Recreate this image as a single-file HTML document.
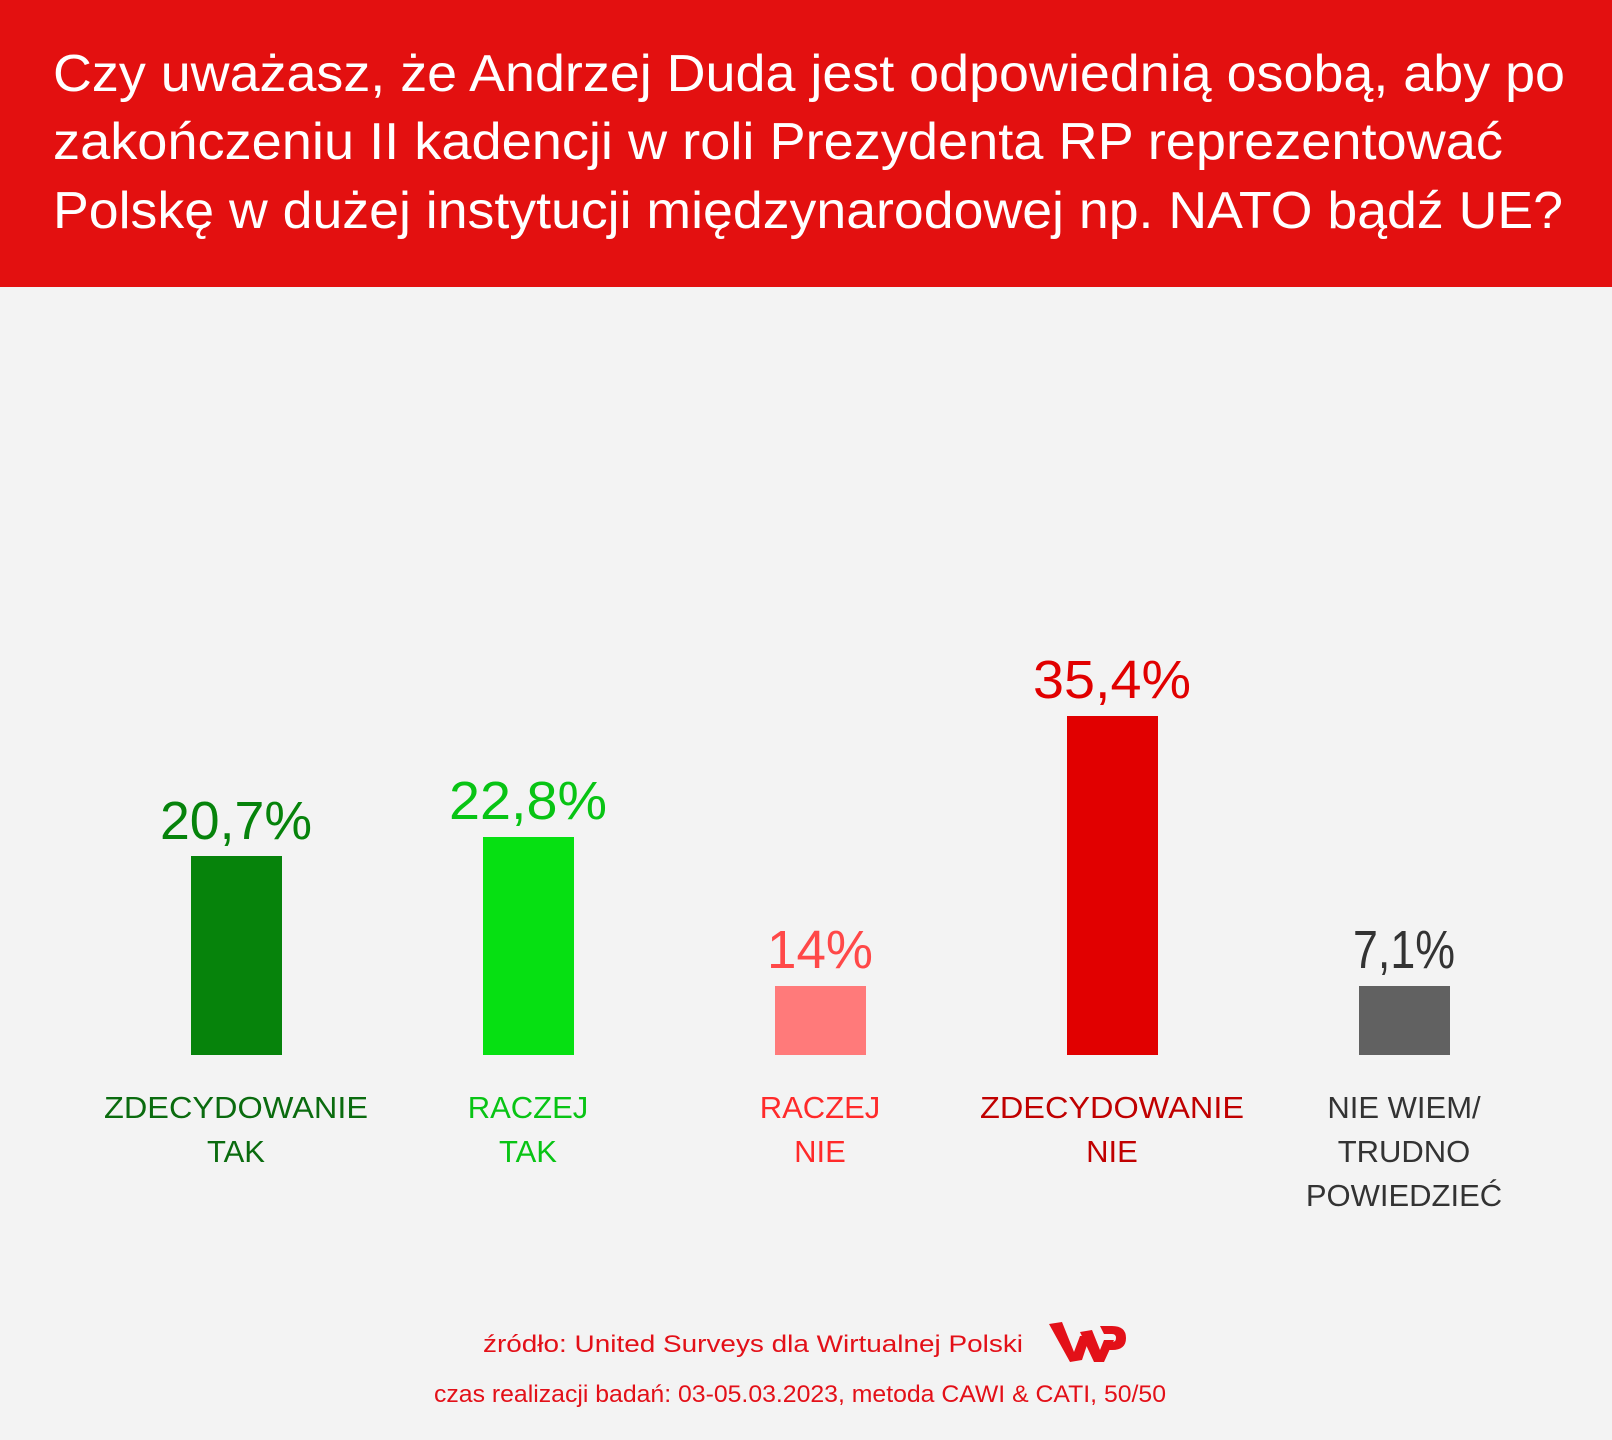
<!DOCTYPE html>
<html><head><meta charset="utf-8"><style>
html,body{margin:0;padding:0;background:#f3f3f3}
svg{display:block}
text{font-family:"Liberation Sans",sans-serif}
</style></head><body>
<svg width="1612" height="1440" viewBox="0 0 1612 1440">
<rect width="1612" height="1440" fill="#f3f3f3"/>
<rect width="1612" height="287" fill="#e31010"/>
<g fill="#fff" font-size="52">
<text x="53" y="91" textLength="1512" lengthAdjust="spacingAndGlyphs">Czy uważasz, że Andrzej Duda jest odpowiednią osobą, aby po</text>
<text x="53" y="159" textLength="1450" lengthAdjust="spacingAndGlyphs">zakończeniu II kadencji w roli Prezydenta RP reprezentować</text>
<text x="53" y="228" textLength="1510" lengthAdjust="spacingAndGlyphs">Polskę w dużej instytucji międzynarodowej np. NATO bądź UE?</text>
</g>
<rect x="191" y="856" width="91" height="199" fill="#06830b"/>
<rect x="483" y="837" width="91" height="218" fill="#06e012"/>
<rect x="775" y="986" width="91" height="69" fill="#ff7a7a"/>
<rect x="1067" y="716" width="91" height="339" fill="#e10000"/>
<rect x="1359" y="986" width="91" height="69" fill="#616161"/>
<g font-size="54" text-anchor="middle">
<text x="236" y="839" fill="#06830b" textLength="152" lengthAdjust="spacingAndGlyphs">20,7%</text>
<text x="528" y="819" fill="#08c414" textLength="158" lengthAdjust="spacingAndGlyphs">22,8%</text>
<text x="820" y="968" fill="#ff4848" textLength="106" lengthAdjust="spacingAndGlyphs">14%</text>
<text x="1112" y="698" fill="#e10000" textLength="158" lengthAdjust="spacingAndGlyphs">35,4%</text>
<text x="1404" y="968" fill="#333" textLength="102" lengthAdjust="spacingAndGlyphs">7,1%</text>
</g>
<g font-size="31" text-anchor="middle">
<g fill="#0a6b0e"><text x="236" y="1118" textLength="264" lengthAdjust="spacingAndGlyphs">ZDECYDOWANIE</text><text x="236" y="1162">TAK</text></g>
<g fill="#08c414"><text x="528" y="1118">RACZEJ</text><text x="528" y="1162">TAK</text></g>
<g fill="#ff2a2a"><text x="820" y="1118">RACZEJ</text><text x="820" y="1162">NIE</text></g>
<g fill="#c00000"><text x="1112" y="1118" textLength="264" lengthAdjust="spacingAndGlyphs">ZDECYDOWANIE</text><text x="1112" y="1162">NIE</text></g>
<g fill="#333"><text x="1404" y="1118">NIE WIEM/</text><text x="1404" y="1162">TRUDNO</text><text x="1404" y="1206">POWIEDZIEĆ</text></g>
</g>
<g fill="#e31018" font-size="24">
<text x="483" y="1352" textLength="540" lengthAdjust="spacingAndGlyphs">źródło: United Surveys dla Wirtualnej Polski</text>
<text x="434" y="1402" textLength="732" lengthAdjust="spacingAndGlyphs">czas realizacji badań: 03-05.03.2023, metoda CAWI &amp; CATI, 50/50</text>
</g>
<g fill="#e31018">
<path d="M1049 1324 L1062 1322 L1074 1352 L1080 1336 L1090 1336 L1082 1360 L1070 1362 Z"/>
<path d="M1080 1332 L1092 1330 L1100 1350 L1104 1340 L1114 1340 L1104 1362 L1094 1362 Z"/>
<path d="M1100 1326 L1112 1326 Q1126 1326 1126 1338 Q1126 1350 1112 1350 L1108 1350 L1106 1342 L1112 1342 Q1116 1342 1116 1338 Q1116 1334 1112 1334 L1104 1334 Z"/>
</g>
</svg>
</body></html>
